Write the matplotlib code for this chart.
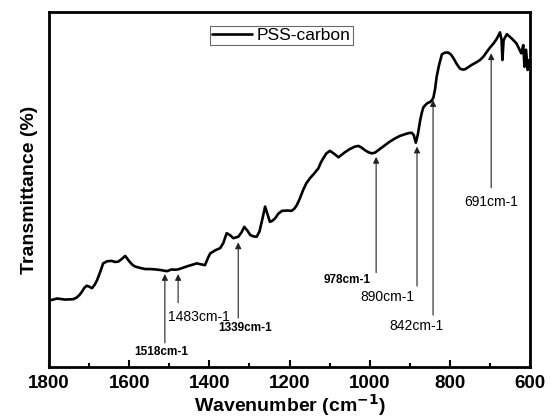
import numpy as np
import matplotlib.pyplot as plt

# FTIR spectrum (arbitrary transmittance scale)
wavenumber = [1800, 1793, 1780, 1760, 1740, 1732, 1724, 1718, 1712, 1706,
              1699, 1693, 1686, 1680, 1672, 1665, 1655, 1644, 1635, 1627,
              1618, 1610, 1600, 1592, 1585, 1572, 1560, 1547, 1535, 1520,
              1506, 1494, 1486, 1478, 1465, 1452, 1440, 1432, 1419, 1411,
              1404, 1398, 1385, 1373, 1365, 1357, 1349, 1340, 1328, 1320,
              1313, 1305, 1298, 1290, 1282, 1275, 1268, 1261, 1255, 1249,
              1243, 1236, 1228, 1219, 1205, 1195, 1188, 1182, 1175, 1166,
              1158, 1149, 1138, 1128, 1122, 1116, 1108, 1099, 1089, 1078,
              1070, 1062, 1050, 1037, 1028, 1020, 1012, 1003, 995, 987,
              975, 962, 950, 937, 925, 912, 903, 895, 890, 885,
              880, 874, 870, 866, 857, 849, 844, 841, 837, 833,
              827, 820, 812, 804, 797, 791, 783, 775, 768, 762,
              754, 746, 735, 725, 716, 708, 700, 691, 683, 675,
              671, 669, 666, 658, 646, 634, 622, 617, 614, 610,
              606, 602, 600]
transmittance = [18.9, 18.9, 19.3, 19.0, 19.1, 19.5, 20.3, 21.2, 22.3, 22.9,
                 22.6, 22.2, 23.2, 24.5, 26.9, 29.2, 29.8, 29.9, 29.6, 29.7,
                 30.5, 31.3, 29.8, 28.8, 28.3, 27.9, 27.6, 27.6, 27.5, 27.3,
                 27.0, 27.5, 27.4, 27.5, 28.0, 28.5, 28.9, 29.2, 28.9, 28.7,
                 30.6, 32.0, 32.9, 33.5, 35.0, 37.7, 37.2, 36.3, 36.7, 37.9,
                 39.5, 38.4, 37.2, 36.8, 36.7, 38.2, 41.6, 45.2, 43.0, 40.9,
                 41.2, 41.9, 43.2, 44.0, 44.1, 44.0, 44.6, 45.6, 47.3, 49.9,
                 51.8, 53.2, 54.6, 56.0, 57.6, 58.8, 60.2, 60.9, 60.1, 59.1,
                 59.8, 60.5, 61.4, 62.1, 62.3, 61.8, 61.1, 60.5, 60.2, 60.4,
                 61.4, 62.5, 63.5, 64.4, 65.1, 65.6, 65.9, 66.0, 65.3, 63.2,
                 65.5, 69.6, 71.7, 73.2, 74.3, 74.7, 75.3, 76.0, 78.3, 81.8,
                 85.1, 88.1, 88.6, 88.6, 88.0, 87.0, 85.4, 84.1, 83.8, 83.9,
                 84.5, 85.1, 85.8, 86.5, 87.5, 88.8, 90.0, 91.2, 92.5, 94.3,
                 92.1, 86.5, 92.1, 93.8, 92.6, 91.2, 88.4, 90.7, 84.6, 89.4,
                 83.7, 86.5, 85.1]

# peak markers
peak_labels = ['1518cm-1', '1483cm-1', '1339cm-1', '978cm-1', '890cm-1', '842cm-1', '691cm-1']
peak_pos = [1511, 1478, 1328, 984, 882, 842, 697]
peak_tip = [26.2, 26.2, 35.1, 59.2, 62.1, 75.2, 88.4]

# layout of the annotations
tail_y = [6.8, 18.1, 13.8, 26.6, 22.8, 14.6, 50.5]
text_xy = [(1519, 4.3), (1426, 14.2), (1311, 10.9), (1055, 24.5),
           (957, 19.8), (884, 11.5), (697, 46.6)]
bold = [True, False, True, True, False, False, False]

fig = plt.figure(figsize=(5.51, 4.18), dpi=100)
ax = fig.add_axes([0.089, 0.122, 0.873, 0.849])

ax.plot(wavenumber, transmittance, color='black', lw=1.9, label='PSS-carbon',
        solid_joinstyle='round', solid_capstyle='round')

for lab, x, tip, tail, (tx, ty), b in zip(peak_labels, peak_pos, peak_tip, tail_y, text_xy, bold):
    ax.annotate('', xy=(x, tip), xytext=(x, tail),
                arrowprops=dict(arrowstyle='-|>', color='#222222', lw=0.8,
                                mutation_scale=9, shrinkA=0, shrinkB=0))
    ax.text(tx, ty, lab, ha='center', va='center',
            fontsize=8.5 if b else 10,
            fontweight='bold' if b else 'normal',
            family='Liberation Sans')

ax.set_xlim(1800, 600)
ax.set_ylim(0, 100)
ax.set_xticks([1800, 1600, 1400, 1200, 1000, 800, 600])
ax.set_xticks([1700, 1500, 1300, 1100, 900, 700], minor=True)
ax.set_yticks([])
ax.tick_params(axis='x', which='major', direction='in', length=5, width=1.5,
               labelsize=13.5, pad=6)
ax.tick_params(axis='x', which='minor', direction='in', length=3, width=1.5)
for lbl in ax.get_xticklabels():
    lbl.set_fontweight('bold')
    lbl.set_family('Liberation Sans')
for sp in ax.spines.values():
    sp.set_linewidth(2)

ax.set_xlabel('Wavenumber (cm$^{\\mathbf{-1}}$)', fontsize=14, fontweight='bold',
              family='Liberation Sans', labelpad=0)
ax.set_ylabel('Transmittance (%)', fontsize=14, fontweight='bold',
              family='Liberation Sans', labelpad=8)

leg = ax.legend(loc='upper center', bbox_to_anchor=(0.483, 0.96), frameon=True,
                fancybox=False, edgecolor='#444444', handlelength=2.3,
                prop={'family': 'Liberation Sans', 'size': 12.5},
                borderpad=0.1, handletextpad=0.3, borderaxespad=0)
leg.get_frame().set_linewidth(0.8)

fig.savefig('out.png', dpi=100)
